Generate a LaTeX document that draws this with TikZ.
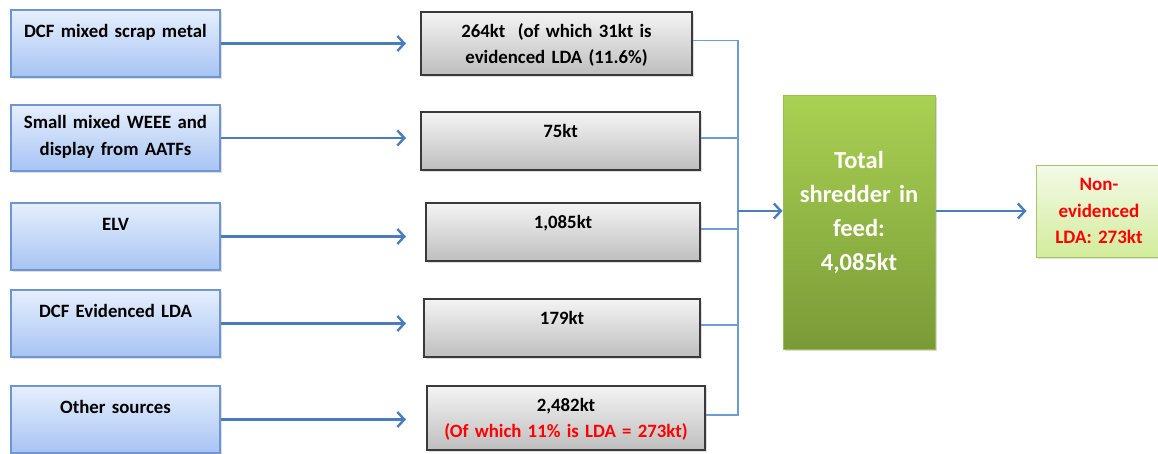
\documentclass[tikz,border=0pt]{standalone}
\usepackage{fontspec}
\setmainfont{Carlito}
\usetikzlibrary{arrows.meta,shadows}

\definecolor{srctop}{HTML}{E6EFFC}
\definecolor{srcbot}{HTML}{A7C4F4}
\definecolor{srcline}{HTML}{6F96D1}
\definecolor{amttop}{HTML}{F4F4F4}
\definecolor{amtbot}{HTML}{BEBEBE}
\definecolor{amtline}{HTML}{3A3A3A}
\definecolor{tottop}{HTML}{A9D152}
\definecolor{totbot}{HTML}{7A9A37}
\definecolor{totline}{HTML}{98BD55}
\definecolor{ldatop}{HTML}{F4FAE8}
\definecolor{ldabot}{HTML}{D2EC9B}
\definecolor{ldaline}{HTML}{A3C76A}
\definecolor{arrowblue}{HTML}{4A7EBB}
\definecolor{busblue}{HTML}{6E9BD6}
\definecolor{ldared}{HTML}{FF0000}

\begin{document}
\begin{tikzpicture}[
    x=1pt,
    y=-1pt,
    source/.style={
        rectangle,
        draw=srcline,
        line width=1.2pt,
        top color=srctop,
        bottom color=srcbot,
        drop shadow={shadow xshift=2pt, shadow yshift=-2pt, opacity=.25},
        text width=209pt,
        align=center,
        inner sep=0pt,
        text height=27pt,
        text depth=40pt,
        font=\fontsize{18.8}{27}\selectfont\bfseries
        },
    amount/.style={
        rectangle,
        draw=amtline,
        line width=1.5pt,
        top color=amttop,
        bottom color=amtbot,
        drop shadow={shadow xshift=2pt, shadow yshift=-2pt, opacity=.25},
        align=center,
        inner sep=0pt,
        text height=25pt,
        text depth=33pt,
        font=\fontsize{18.8}{26}\selectfont\bfseries
        },
    total/.style={
        rectangle,
        draw=totline,
        line width=1pt,
        top color=tottop,
        bottom color=totbot,
        drop shadow={shadow xshift=2pt, shadow yshift=-2pt, opacity=.3},
        text=white,
        align=center,
        inner sep=0pt,
        font=\fontsize{24.5}{34}\selectfont\bfseries
        },
    result/.style={
        rectangle,
        draw=ldaline,
        line width=1pt,
        top color=ldatop,
        bottom color=ldabot,
        drop shadow={shadow xshift=2pt, shadow yshift=-2pt, opacity=.25},
        text=ldared,
        align=center,
        inner sep=0pt,
        font=\fontsize{19}{26.5}\selectfont\bfseries
        },
    feed/.style={
        draw=arrowblue,
        line width=2.4pt,
        -{Straight Barb[length=7pt,width=15pt]}
        },
    bus/.style={
        draw=busblue,
        line width=1.4pt
        },
    ]

    \useasboundingbox (0,0) rectangle (1158,453);

    \node [source] (src1) at (115.5,43.5) {DCF mixed scrap metal};
    \node [source, text height=23pt, text depth=43pt] (src2) at (115.5,138) {Small mixed WEEE and\\display from AATFs};
    \node [source] (src3) at (115.5,236.5) {ELV};
    \node [source] (src4) at (115.5,323.5) {DCF Evidenced LDA};
    \node [source] (src5) at (115.5,419.5) {Other sources};

    \node [amount, text width=271pt, text depth=38pt] (amt1) at (556.5,43.5) {264kt~ (of which 31kt is\\evidenced LDA (11.6\%)};
    \node [amount, text width=279pt] (amt2) at (560.5,141) {75kt};
    \node [amount, text width=274pt] (amt3) at (563,232) {1,085kt};
    \node [amount, text width=276pt] (amt4) at (562,328) {179kt};
    \node [amount, text width=278pt, text depth=39pt] (amt5) at (566,418) {2,482kt\\{\color{ldared}(Of which 11\% is LDA = 273kt)}};

    \node [total, text width=152pt, text height=73pt, text depth=181pt] (tot) at (859,222) {Total\\shredder in\\feed:\\4,085kt};
    \node [result, text width=126pt, minimum height=92pt] (lda) at (1099,211) {Non-\\evidenced\\LDA: 273kt};

    \coordinate (tips) at (406,0);
    \coordinate (bus) at (738,211);

    \foreach \i in {1,...,5}{
        \draw [feed] (src\i.east) -- (src\i.east -| tips);
        \draw [bus] ([yshift=3pt]amt\i.east) -| (bus);
    }

    \draw [feed] (bus) -- (bus -| tot.west);
    \draw [feed, shorten >=9pt] (bus -| tot.east) -- (bus -| lda.west);

\end{tikzpicture}
\end{document}
